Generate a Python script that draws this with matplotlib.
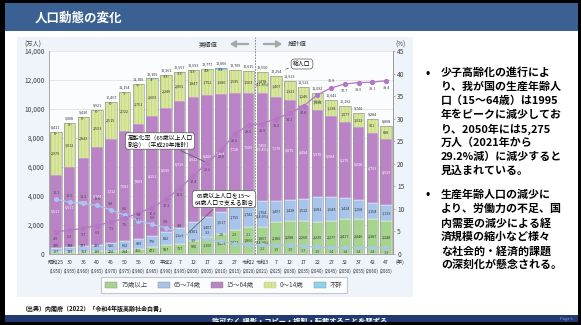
import matplotlib
matplotlib.use('Agg')
import matplotlib.pyplot as plt
from matplotlib.patches import Rectangle, Patch

plt.rcParams['font.family'] = ['Noto Sans CJK JP', 'DejaVu Sans']
plt.rcParams['hatch.linewidth'] = 0.5

# --- データ（万人, %） ---
era_labels = ['昭和25', '30', '35', '40', '45', '50', '55', '60', '平成2', '7', '12', '17', '22',
              '27', '令和2', '令和3', '7', '12', '17', '22', '27', '32', '37', '42', '47']
year_labels = ['(1950)', '(1955)', '(1960)', '(1965)', '(1970)', '(1975)', '(1980)', '(1985)',
               '(1990)', '(1995)', '(2000)', '(2005)', '(2010)', '(2015)', '(2020)', '(2021)',
               '(2025)', '(2030)', '(2035)', '(2040)', '(2045)', '(2050)', '(2055)', '(2060)', '(2065)']
age0_14 = [2979, 3012, 2843, 2553, 2515, 2722, 2751, 2603, 2249, 2001, 1847, 1752, 1680,
           1595, 1503, 1478, 1407, 1321, 1246, 1194, 1138, 1077, 1012, 951, 898]
age15_64 = [5017, 5517, 6047, 6744, 7212, 7581, 7883, 8251, 8590, 8716, 8622, 8409, 8103,
            7728, 7509, 7450, 7170, 6875, 6494, 5978, 5584, 5275, 5028, 4793, 4529]
age65_74 = [309, 338, 377, 435, 516, 602, 699, 776, 892, 1109, 1301, 1407, 1517,
            1755, 1742, 1754, 1497, 1428, 1522, 1681, 1643, 1424, 1258, 1154, 1133]
age75 = [107, 139, 163, 189, 224, 284, 366, 471, 597, 717, 900, 1160, 1407,
         1632, 1860, 1867, 2180, 2288, 2260, 2239, 2277, 2417, 2446, 2387, 2248]
unknown = [0, 2, 0, 0, 0, 5, 7, 4, 33, 13, 23, 48, 98,
           0, 0, 0, 0, 0, 0, 0, 0, 0, 0, 0, 0]
totals = [8411, 9008, 9430, 9921, 10467, 11194, 11706, 12105, 12361, 12557, 12693, 12777, 12806,
          12709, 12615, 12550, 12254, 11913, 11522, 11092, 10642, 10192, 9744, 9284, 8808]
aging_rate = [4.9, 5.3, 5.7, 6.3, 7.1, 7.9, 9.1, 10.3, 12.1, 14.6, 17.4, 20.2, 23.0,
              26.6, 28.6, 28.9, 30.0, 31.2, 32.8, 35.3, 36.8, 37.7, 38.0, 38.1, 38.4]
support = [12.1, 11.5, 11.2, 10.8, 9.8, 8.6, 7.4, 6.6, 5.8, 4.8, 3.9, 3.3, 2.8,
           2.3, 2.1, 2.1, 1.9, 1.9, 1.7, 1.5, 1.4, 1.4, 1.4, 1.4, 1.3]
pct_2021 = [11.8, 59.4, 14.0, 14.9]   # 0-14, 15-64, 65-74, 75+

bullet1 = ['少子高齢化の進行によ', 'り、我が国の生産年齢人', '口（15～64歳）は1995',
           '年をピークに減少してお', 'り、2050年には5,275', '万人（2021年から',
           '29.2%減）に減少すると', '見込まれている。']
bullet2 = ['生産年齢人口の減少に', 'より、労働力の不足、国', '内需要の減少による経',
           '済規模の縮小など様々', 'な社会的・経済的課題', 'の深刻化が懸念される。']

c75 = '#a6d48f'
c65 = '#a9c4ea'
c15 = '#b983c6'
c0 = '#d8e79e'
cunk = '#8fd0f2'

W, H = 581, 325


def fx(x):
    return x / W


def fy(y):
    return 1 - y / H


def rect(x0, y0, x1, y1, color):
    r = Rectangle((fx(x0), fy(y1)), (x1 - x0) / W, (y1 - y0) / H,
                  transform=fig.transFigure, fc=color, ec='none', zorder=-5)
    fig.patches.append(r)
    return r


fig = plt.figure(figsize=(W / 100, H / 100), dpi=100)
fig.patch.set_facecolor('black')

# スライドの枠
rect(5, 3, 578, 322, 'white')
rect(5, 3, 578, 31, '#3a6191')
fig.text(fx(35), fy(18), '人口動態の変化', color='white', fontsize=9, fontweight='bold', va='center')
rect(17, 37, 413, 297, '#eff4fa')
bar = rect(5, 315, 578, 322, '#1f3b70')
t = fig.text(fx(300), fy(321), '許可なく 撮影・コピー・複製・転載することを禁ずる',
             color='white', fontsize=5.2, fontweight='bold', ha='center', va='center')
t.set_clip_path(bar)
fig.text(fx(566), fy(319), 'Page 6', color='#8ea2c8', fontsize=3, ha='center', va='center')

# グラフ
ax = fig.add_axes([fx(49), fy(254), (393 - 49) / W, (254 - 51) / H])
ax.set_facecolor('#fbfcfe')
x = list(range(len(totals)))
bw = 0.84
b1 = [a for a in age75]
b2 = [a + b for a, b in zip(age75, age65_74)]
b3 = [a + b for a, b in zip(b2, age15_64)]
b4 = [a + b for a, b in zip(b3, age0_14)]
ax.bar(x, age75, bw, color=c75, edgecolor='white', linewidth=0.3, zorder=2)
ax.bar(x, age65_74, bw, bottom=b1, color=c65, edgecolor='white', linewidth=0.3, zorder=2)
ax.bar(x, age15_64, bw, bottom=b2, color=c15, edgecolor='white', linewidth=0.3, zorder=2)
ax.bar(x, age0_14, bw, bottom=b3, color=c0, edgecolor='#c2d57a', hatch='|||||', linewidth=0, zorder=2)
ax.bar(x, unknown, bw, bottom=b4, color=cunk, linewidth=0, zorder=2)
ax.bar(x, totals, bw, fill=False, edgecolor='#8a8a8a', linewidth=0.4, zorder=3)

ax.set_xlim(-0.5, len(x) - 0.5)
ax.set_ylim(0, 14000)
ax.set_yticks(range(0, 14001, 2000))
ax.set_yticklabels([f'{v:,}' for v in range(0, 14001, 2000)], fontsize=4.8, color='#444')
ax.tick_params(axis='y', length=0, pad=3)
ax.set_xticks([])
ax.grid(axis='y', color='#dcdcdc', linewidth=0.5, zorder=0)
ax.spines['top'].set_visible(False)
for s in ['left', 'right', 'bottom']:
    ax.spines[s].set_color('#9a9a9a')
    ax.spines[s].set_linewidth(0.6)

# 棒の数値
fs = 2.7
for i in x:
    y75 = max(age75[i] / 2, 160)
    y65 = max(b1[i] + age65_74[i] / 2, y75 + 420)
    lab75 = f'{age75[i]:,}'
    lab65 = f'{age65_74[i]:,}'
    lab15 = f'{age15_64[i]:,}'
    lab0 = f'{age0_14[i]:,}'
    if i == 15:
        lab0 += f'\n({pct_2021[0]}%)'
        lab15 += f'\n({pct_2021[1]}%)'
        lab65 += f'\n({pct_2021[2]}%)'
        lab75 += f'\n({pct_2021[3]}%)'
    ax.text(i, y75, lab75, fontsize=fs, ha='center', va='center', color='#333', zorder=4, linespacing=0.9)
    ax.text(i, y65, lab65, fontsize=fs, ha='center', va='center', color='#333', zorder=4, linespacing=0.9)
    ax.text(i, b2[i] + age15_64[i] / 2, lab15, fontsize=fs, ha='center', va='center', color='white', zorder=4, linespacing=0.9)
    ax.text(i, b3[i] + age0_14[i] / 2, lab0, fontsize=fs, ha='center', va='center', color='#333', zorder=4, linespacing=0.9)
    if i <= 12:
        ax.text(i, totals[i] - 130, f'-{unknown[i]}-', fontsize=fs, ha='center', va='center', color='#333', zorder=4)
    ax.text(i, totals[i] + 180, f'{totals[i]:,}', fontsize=fs, ha='center', va='bottom', color='#333', zorder=4)

# x軸ラベル
for i in x:
    ax.text(i, -0.04, era_labels[i], transform=ax.get_xaxis_transform(), fontsize=3.7,
            ha='center', va='center', color='#333')
    ax.text(i, -0.085, year_labels[i], transform=ax.get_xaxis_transform(), fontsize=3.2,
            ha='center', va='center', color='#333')
fig.text(fx(400), fy(262), '(年)', fontsize=3.9, ha='center', va='center', color='#333')
fig.text(fx(33), fy(45), '(万人)', fontsize=4.5, ha='center', va='center', color='#444')
fig.text(fx(400), fy(45), '(%)', fontsize=4.5, ha='center', va='center', color='#444')

# 実績値・推計値
ax.plot([14.5, 14.5], [0, 14950], color='#777', linewidth=0.6, linestyle=(0, (2, 1.5)), clip_on=False, zorder=5)
fig.text(fx(208), fy(44), '実績値', fontsize=4.5, ha='center', va='center', color='#333')
fig.text(fx(297), fy(44), '推計値', fontsize=4.5, ha='center', va='center', color='#333')
ax.annotate('', xy=(fx(227), fy(44)), xytext=(fx(251), fy(44)), xycoords='figure fraction',
            arrowprops=dict(arrowstyle='-|>,head_length=0.3,head_width=0.18', color='#a8a8a8', lw=1.6))
ax.annotate('', xy=(fx(285), fy(44)), xytext=(fx(261), fy(44)), xycoords='figure fraction',
            arrowprops=dict(arrowstyle='-|>,head_length=0.3,head_width=0.18', color='#a8a8a8', lw=1.6))

# 右軸（割合）
ax2 = ax.twinx()
ax2.set_ylim(0, 45)
ax2.set_yticks(range(0, 46, 5))
ax2.set_yticklabels([str(v) for v in range(0, 46, 5)], fontsize=4.8, color='#444')
ax2.tick_params(axis='y', length=1.5, width=0.5, pad=1.5, color='#9a9a9a')
for s in ['top', 'left', 'bottom']:
    ax2.spines[s].set_visible(False)
ax2.spines['right'].set_color('#9a9a9a')
ax2.spines['right'].set_linewidth(0.6)

ax2.plot(x, support, color='#a9c7ee', linewidth=0.9, marker='o', markersize=2.6, zorder=5)
ax2.plot(x, aging_rate, color='#b477c4', linewidth=0.9, marker='o', markersize=2.8, zorder=6)
for i in x:
    if i == 20:
        ax2.text(i, aging_rate[i] + 1.0, f'{aging_rate[i]:.1f}', fontsize=fs, ha='center', va='bottom',
                 color='#444', zorder=7)
    else:
        ax2.text(i, aging_rate[i] - 1.1, f'{aging_rate[i]:.1f}', fontsize=fs, ha='center', va='top',
                 color='#444', zorder=7)
    # 支える割合のラベル：棒の中の数値と重ならない側に置く
    if i >= 15 or i == 10:
        ax2.text(i, support[i] - 0.6, f'{support[i]:.1f}', fontsize=fs, ha='center', va='top',
                 color='#444', zorder=7)
    else:
        ax2.text(i, max(support[i] + 0.9, 3.7), f'{support[i]:.1f}', fontsize=fs, ha='center',
                 va='bottom', color='#444', zorder=7)

box = dict(boxstyle='round,pad=0.35,rounding_size=0.5', fc='white', ec='#555', lw=0.5)
ax2.annotate('高齢化率（65歳以上人口\n割合）（平成29年推計）', xy=(11, 20.2),
             xytext=(fx(160), fy(141)), textcoords='figure fraction', fontsize=4.2,
             ha='center', va='center', bbox=box, linespacing=1.2, zorder=8,
             arrowprops=dict(arrowstyle='-', color='#555', lw=0.5))
ax2.annotate('65歳以上人口を15～\n64歳人口で支える割合', xy=(9.5, 4.35),
             xytext=(fx(224), fy(199)), textcoords='figure fraction', fontsize=4.2,
             ha='center', va='center', bbox=box, linespacing=1.2, zorder=8,
             arrowprops=dict(arrowstyle='-', color='#555', lw=0.5))
ax2.annotate('総人口', xy=(fx(283), fy(70)), xycoords='figure fraction',
             xytext=(fx(302), fy(64)), textcoords='figure fraction', fontsize=4.2,
             ha='center', va='center', bbox=box, zorder=8,
             arrowprops=dict(arrowstyle='-', color='#555', lw=0.5))

# 凡例
handles = [Patch(fc=c75, ec='#888', lw=0.3), Patch(fc=c65, ec='#888', lw=0.3),
           Patch(fc=c15, ec='#888', lw=0.3), Patch(fc=c0, ec='#c2d57a', hatch='|||||', lw=0.3),
           Patch(fc=cunk, ec='#888', lw=0.3)]
labels = ['75歳以上', '65～74歳', '15～64歳', '0～14歳', '不詳']
leg = fig.legend(handles, labels, ncol=5, loc='center', bbox_to_anchor=(fx(224), fy(285)),
                 fontsize=4.6, frameon=True, fancybox=False, edgecolor='#bbbbbb',
                 handlelength=1.9, handleheight=1.0, columnspacing=1.6, handletextpad=0.6,
                 borderpad=0.7)
leg.get_frame().set_linewidth(0.8)
for txt in leg.get_texts():
    txt.set_color('#444')

fig.text(fx(21), fy(308), '（出典）内閣府（2022）「令和4年版高齢社会白書」', fontsize=4.3,
         fontweight='bold', va='center', color='#111')

# 右側の説明文
for y0, lines in [(73, bullet1), (195, bullet2)]:
    fig.text(fx(428), fy(y0), '•', fontsize=8, fontweight='bold', ha='center', va='center')
    for k, line in enumerate(lines):
        fig.text(fx(441), fy(y0 + k * 14), line, fontsize=7.9, fontweight='bold', va='center')

fig.savefig('out.png', dpi=100, facecolor=fig.get_facecolor())
